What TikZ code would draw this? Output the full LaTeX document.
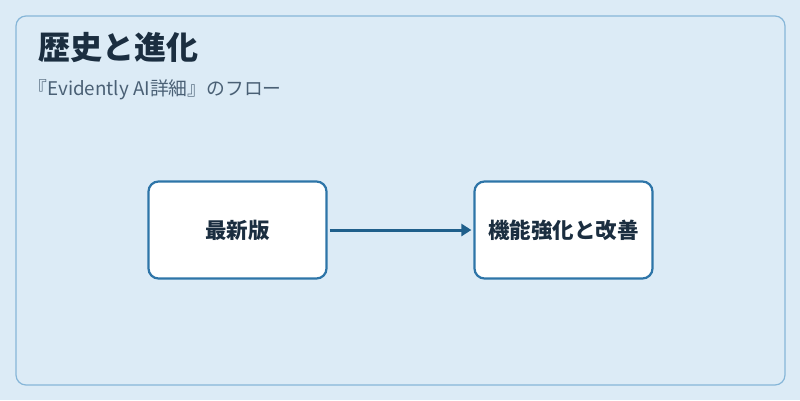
\documentclass[tikz,border=0pt]{standalone}
\usepackage{fontspec}
\setmainfont{Noto Sans CJK JP}
\usetikzlibrary{arrows.meta}
\definecolor{bgc}{HTML}{DCEBF6}
\definecolor{framec}{HTML}{86B6D8}
\definecolor{boxc}{HTML}{2E75A8}
\definecolor{arrc}{HTML}{1F5F8B}
\definecolor{titc}{HTML}{1B2E40}
\definecolor{subc}{HTML}{4A6075}
\tikzset{stepbox/.style={draw=boxc,line width=2.2pt,fill=white,rounded corners=10pt,minimum width=178pt,minimum height=97pt,font=\bfseries\fontsize{21.5}{24}\selectfont,text=titc}}
\begin{document}
\begin{tikzpicture}[x=1pt,y=-1pt]
\useasboundingbox (0,0) rectangle (800,400);
\fill[bgc] (0,0) rectangle (800,400);
\draw[framec,line width=1.2pt,rounded corners=10pt] (16,16) rectangle (785,385);
\node[anchor=west,font=\bfseries\fontsize{32}{36}\selectfont,text=titc] (title) at (35,47) {歴史と進化};
\node[anchor=west,font=\fontsize{18.8}{22}\selectfont,text=subc] (sub) at (25,90) {『Evidently AI詳細』のフロー};
\node[stepbox] (a) at (237.5,230) {最新版};
\node[stepbox] (b) at (563.5,230) {機能強化と改善};
\draw[arrc,line width=3pt,-{Triangle[length=10pt,width=12pt]}] (a.east) ++(2,0) coordinate (s) (s) -- ([xshift=-2pt]b.west);
\end{tikzpicture}
\end{document}
